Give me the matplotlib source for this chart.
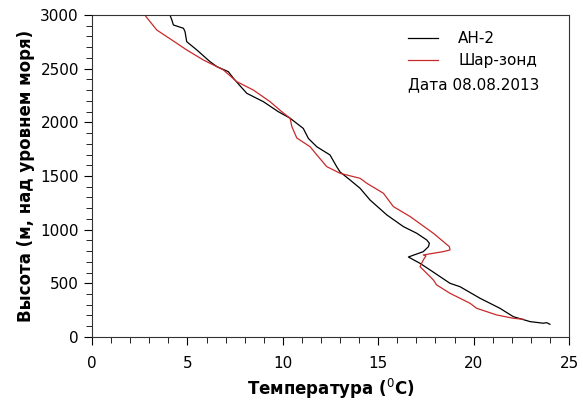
import matplotlib
matplotlib.use("Agg")
import matplotlib.pyplot as plt
from matplotlib.ticker import MultipleLocator

# АН-2 (aircraft) profile: temperature, altitude
an2_temp = [4.09, 4.18, 4.26, 4.79, 4.87, 4.96, 5.49, 6.18, 6.54, 7.14, 7.41, 7.76,
            8.11, 8.98, 9.76, 10.38, 11.07, 11.34, 11.78, 12.47, 12.82, 13.0, 13.52,
            14.05, 14.57, 15.45, 16.32, 17.02, 17.54, 17.68, 17.63, 17.36, 16.58,
            17.19, 17.72, 18.76, 19.29, 20.34, 21.38, 22.08, 22.96, 23.65, 23.83, 24.0]
an2_alt = [2995, 2954, 2907, 2876, 2845, 2751, 2674, 2565, 2519, 2472, 2410, 2339,
           2270, 2192, 2099, 2038, 1943, 1849, 1772, 1696, 1587, 1537, 1463,
           1385, 1276, 1137, 1028, 966, 904, 873, 841, 795, 745,
           686, 624, 500, 468, 360, 267, 189, 143, 128, 133, 118]

# Шар-зонд (radiosonde) profile
sonde_temp = [2.78, 3.39, 4.18, 4.96, 5.83, 6.88, 7.58, 8.45, 9.33, 9.94, 10.38, 10.47,
              10.73, 11.43, 11.78, 12.3, 13.0, 14.05, 14.4, 15.27, 15.79, 16.67, 17.89,
              18.73, 18.76, 18.41, 17.36, 17.5, 17.36, 17.19, 17.89, 18.06, 18.76,
              19.81, 20.16, 21.21, 22.08, 22.6]
sonde_alt = [2995, 2860, 2767, 2674, 2581, 2488, 2379, 2301, 2192, 2099, 2038, 1960,
             1854, 1772, 1696, 1587, 1525, 1478, 1432, 1339, 1215, 1122, 966,
             841, 811, 795, 764, 755, 717, 655, 531, 485, 407,
             314, 267, 205, 174, 165]

fig = plt.figure(figsize=(5.83, 4.05), dpi=100)
ax = fig.add_axes([0.158, 0.168, 0.818, 0.795])

ax.plot(an2_temp, an2_alt, color="black", lw=0.9, label="АН-2")
ax.plot(sonde_temp, sonde_alt, color="#c82a2a", lw=0.9, label="Шар-зонд")

ax.set_xlim(0, 25)
ax.set_ylim(0, 3000)
ax.xaxis.set_major_locator(MultipleLocator(5))
ax.xaxis.set_minor_locator(MultipleLocator(1))
ax.yaxis.set_major_locator(MultipleLocator(500))
ax.yaxis.set_minor_locator(MultipleLocator(100))
ax.tick_params(which="both", direction="out", top=False, right=False, labelsize=11)
ax.tick_params(which="major", length=6)
ax.tick_params(which="minor", length=4)
ax.tick_params(axis="x", which="major", pad=8)
for s in ax.spines.values():
    s.set_color("#333333")

ax.set_xlabel("Температура ($^{0}$C)", fontsize=12, fontweight="bold", labelpad=4)
ax.set_ylabel("Высота (м, над уровнем моря)", fontsize=12, fontweight="bold", labelpad=4)

ax.legend(loc="upper left", bbox_to_anchor=(0.662, 0.95), frameon=False,
          fontsize=11, borderpad=0, handlelength=2.0, handletextpad=1.3,
          labelspacing=0.45, borderaxespad=0)
ax.text(0.662, 0.783, "Дата 08.08.2013", transform=ax.transAxes,
        fontsize=11, va="center", ha="left")

fig.savefig("out.png", dpi=100)
